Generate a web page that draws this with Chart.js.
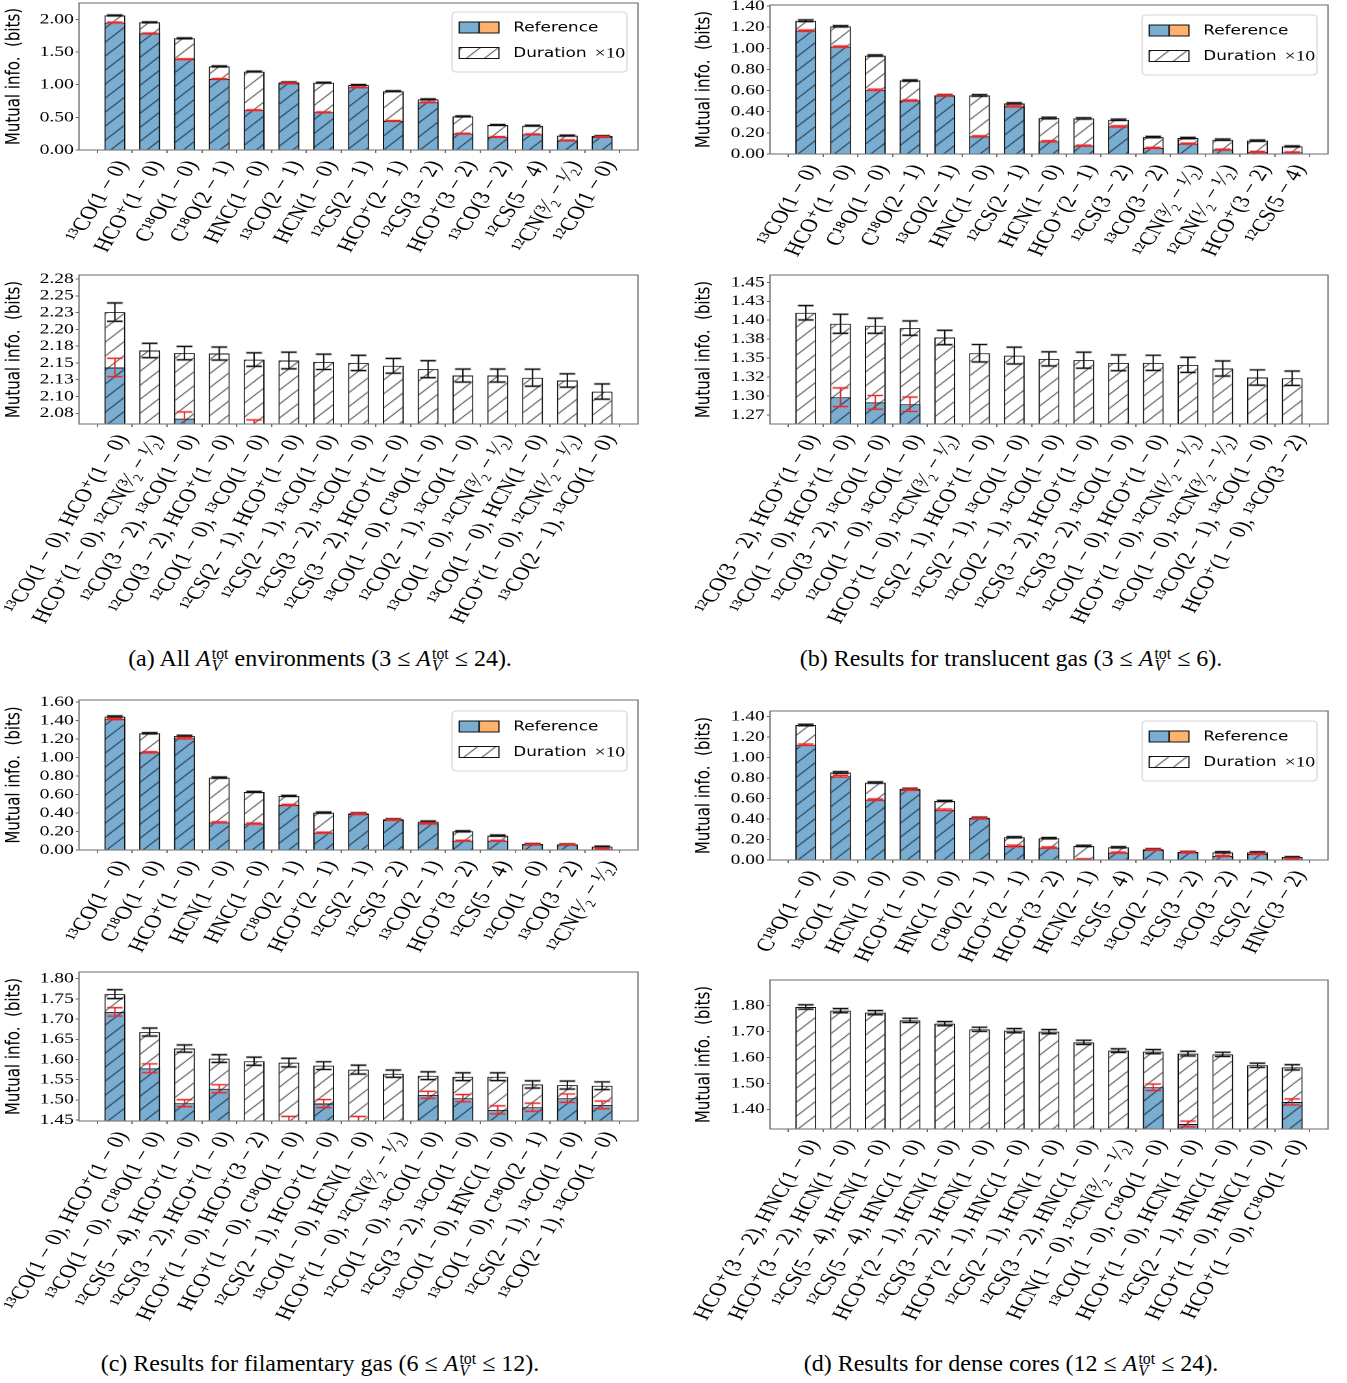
<!DOCTYPE html>
<html>
<head>
<meta charset="utf-8">
<script src="https://cdn.jsdelivr.net/npm/chart.js@4.4.0/dist/chart.umd.min.js"></script>
<style>
  body { margin: 0; background: #fff; width: 1347px; height: 1383px; position: relative; overflow: hidden; }
  .panel { position: absolute; transform-origin: 0 0; }
  .cap { position: absolute; font-family: 'Liberation Serif', 'Times New Roman', serif; font-size: 24px;
         line-height: 28px; white-space: nowrap; transform: translateX(-50%); color: #000; }
  .ss { display: inline-block; vertical-align: -0.32em; line-height: 0.78; font-size: 0.66em; text-align: left; margin-left: 1px; }
</style>
</head>
<body>
<div class="cap" style="left:320px; top:644px">(a) All <i>A</i><span class="ss">tot<br><i>V</i></span> environments (3 ≤ <i>A</i><span class="ss">tot<br><i>V</i></span> ≤ 24).</div>
<div class="cap" style="left:1011px; top:644px">(b) Results for translucent gas (3 ≤ <i>A</i><span class="ss">tot<br><i>V</i></span> ≤ 6).</div>
<div class="cap" style="left:320px; top:1349px">(c) Results for filamentary gas (6 ≤ <i>A</i><span class="ss">tot<br><i>V</i></span> ≤ 12).</div>
<div class="cap" style="left:1011px; top:1349px">(d) Results for dense cores (12 ≤ <i>A</i><span class="ss">tot<br><i>V</i></span> ≤ 24).</div>
<script>
// ---- data ----
const aTopNames = ['¹³CO(1 − 0)', 'HCO⁺(1 − 0)', 'C¹⁸O(1 − 0)', 'C¹⁸O(2 − 1)', 'HNC(1 − 0)', '¹³CO(2 − 1)', 'HCN(1 − 0)',
  '¹²CS(2 − 1)', 'HCO⁺(2 − 1)', '¹²CS(3 − 2)', 'HCO⁺(3 − 2)', '¹³CO(3 − 2)', '¹²CS(5 − 4)', '¹²CN(³⁄₂ − ¹⁄₂)', '¹²CO(1 − 0)'];
const aTopTotal = [2.06, 1.955, 1.71, 1.28, 1.20, 1.036, 1.03, 0.995, 0.90, 0.775, 0.515, 0.383, 0.372, 0.22, 0.214];
const aTopRef = [1.95, 1.785, 1.39, 1.087, 0.61, 1.02, 0.577, 0.96, 0.444, 0.73, 0.25, 0.20, 0.24, 0.148, 0.20];
const aTopErrTotal = [0.006, 0.006, 0.006, 0.006, 0.006, 0.006, 0.006, 0.006, 0.006, 0.006, 0.006, 0.006, 0.006, 0.006, 0.006];
const aTopErrRef = [0.006, 0.006, 0.006, 0.006, 0.006, 0.006, 0.006, 0.006, 0.006, 0.006, 0.006, 0.006, 0.006, 0.006, 0.006];
const aTopTicks = [0, 0.5, 1.0, 1.5, 2.0];
const aTopTickLabels = ['0.00', '0.50', '1.00', '1.50', '2.00'];

const bTopNames = ['¹³CO(1 − 0)', 'HCO⁺(1 − 0)', 'C¹⁸O(1 − 0)', 'C¹⁸O(2 − 1)', '¹³CO(2 − 1)', 'HNC(1 − 0)', '¹²CS(2 − 1)',
  'HCN(1 − 0)', 'HCO⁺(2 − 1)', '¹²CS(3 − 2)', '¹³CO(3 − 2)', '¹²CN(³⁄₂ − ¹⁄₂)', '¹²CN(¹⁄₂ − ¹⁄₂)', 'HCO⁺(3 − 2)', '¹²CS(5 − 4)'];
const bTopTotal = [1.261, 1.208, 0.931, 0.695, 0.556, 0.554, 0.478, 0.34, 0.337, 0.324, 0.16, 0.151, 0.135, 0.126, 0.072];
const bTopRef = [1.167, 1.016, 0.607, 0.506, 0.554, 0.167, 0.45, 0.12, 0.079, 0.261, 0.057, 0.098, 0.041, 0.019, 0.016];
const bTopErrTotal = [0.008, 0.006, 0.006, 0.006, 0.006, 0.007, 0.006, 0.007, 0.006, 0.006, 0.006, 0.006, 0.006, 0.006, 0.005];
const bTopErrRef = [0.006, 0.006, 0.006, 0.006, 0.006, 0.005, 0.006, 0.006, 0.005, 0.006, 0.005, 0.005, 0.005, 0.005, 0.004];
const bTopTicks = [0, 0.2, 0.4, 0.6, 0.8, 1.0, 1.2, 1.4];
const bTopTickLabels = ['0.00', '0.20', '0.40', '0.60', '0.80', '1.00', '1.20', '1.40'];

const cTopNames = ['¹³CO(1 − 0)', 'C¹⁸O(1 − 0)', 'HCO⁺(1 − 0)', 'HCN(1 − 0)', 'HNC(1 − 0)', 'C¹⁸O(2 − 1)', 'HCO⁺(2 − 1)',
  '¹²CS(2 − 1)', '¹²CS(3 − 2)', '¹³CO(2 − 1)', 'HCO⁺(3 − 2)', '¹²CS(5 − 4)', '¹²CO(1 − 0)', '¹³CO(3 − 2)', '¹²CN(¹⁄₂ − ¹⁄₂)'];
const cTopTotal = [1.441, 1.261, 1.232, 0.782, 0.627, 0.584, 0.404, 0.396, 0.332, 0.306, 0.202, 0.155, 0.065, 0.061, 0.036];
const cTopRef = [1.413, 1.056, 1.207, 0.299, 0.285, 0.486, 0.187, 0.389, 0.324, 0.288, 0.10, 0.10, 0.061, 0.058, 0.014];
const cTopErrTotal = [0.007, 0.006, 0.007, 0.006, 0.006, 0.006, 0.006, 0.006, 0.005, 0.006, 0.006, 0.006, 0.005, 0.005, 0.005];
const cTopErrRef = [0.006, 0.006, 0.007, 0.006, 0.006, 0.006, 0.005, 0.006, 0.005, 0.006, 0.005, 0.005, 0.004, 0.004, 0.004];
const cTopTicks = [0, 0.2, 0.4, 0.6, 0.8, 1.0, 1.2, 1.4, 1.6];
const cTopTickLabels = ['0.00', '0.20', '0.40', '0.60', '0.80', '1.00', '1.20', '1.40', '1.60'];

const dTopNames = ['C¹⁸O(1 − 0)', '¹³CO(1 − 0)', 'HCN(1 − 0)', 'HCO⁺(1 − 0)', 'HNC(1 − 0)', 'C¹⁸O(2 − 1)', 'HCO⁺(2 − 1)',
  'HCO⁺(3 − 2)', 'HCN(2 − 1)', '¹²CS(5 − 4)', '¹³CO(2 − 1)', '¹²CS(3 − 2)', '¹³CO(3 − 2)', '¹²CS(2 − 1)', 'HNC(3 − 2)'];
const dTopTotal = [1.318, 0.854, 0.756, 0.694, 0.576, 0.412, 0.222, 0.213, 0.137, 0.124, 0.105, 0.079, 0.075, 0.075, 0.029];
const dTopRef = [1.125, 0.818, 0.589, 0.687, 0.49, 0.406, 0.137, 0.121, 0.007, 0.072, 0.098, 0.075, 0.039, 0.059, 0.013];
const dTopErrTotal = [0.007, 0.008, 0.006, 0.006, 0.006, 0.006, 0.006, 0.006, 0.006, 0.006, 0.005, 0.005, 0.006, 0.005, 0.004];
const dTopErrRef = [0.007, 0.008, 0.007, 0.007, 0.007, 0.005, 0.008, 0.007, 0.005, 0.006, 0.005, 0.005, 0.006, 0.005, 0.004];
const dTopTicks = [0, 0.2, 0.4, 0.6, 0.8, 1.0, 1.2, 1.4];
const dTopTickLabels = ['0.00', '0.20', '0.40', '0.60', '0.80', '1.00', '1.20', '1.40'];

const aBotNames = ['¹³CO(1 − 0), HCO⁺(1 − 0)', 'HCO⁺(1 − 0), ¹²CN(³⁄₂ − ¹⁄₂)', '¹²CO(3 − 2), ¹³CO(1 − 0)',
  '¹²CO(3 − 2), HCO⁺(1 − 0)', '¹²CO(1 − 0), ¹³CO(1 − 0)', '¹²CS(2 − 1), HCO⁺(1 − 0)', '¹²CS(2 − 1), ¹³CO(1 − 0)',
  '¹²CS(3 − 2), ¹³CO(1 − 0)', '¹²CS(3 − 2), HCO⁺(1 − 0)', '¹³CO(1 − 0), C¹⁸O(1 − 0)', '¹²CO(2 − 1), ¹³CO(1 − 0)',
  '¹³CO(1 − 0), ¹²CN(³⁄₂ − ¹⁄₂)', '¹³CO(1 − 0), HCN(1 − 0)', 'HCO⁺(1 − 0), ¹²CN(¹⁄₂ − ¹⁄₂)', '¹³CO(2 − 1), ¹³CO(1 − 0)'];
const aBotTotal = [2.2257, 2.1685, 2.1646, 2.164, 2.155, 2.1536, 2.1516, 2.150, 2.1457, 2.1407, 2.1312, 2.1312, 2.128, 2.1238, 2.1073];
const aBotRef = [2.1432, null, 2.067, null, 2.055, null, null, null, null, null, null, null, null, null, null];
const aBotErrTotal = [0.0137, 0.0107, 0.010, 0.0097, 0.010, 0.0124, 0.0114, 0.0114, 0.011, 0.0127, 0.0097, 0.0097, 0.0127, 0.010, 0.0114];
const aBotErrRef = [0.0137, null, 0.010, null, 0.010, null, null, null, null, null, null, null, null, null, null];
const aBotTicks = [2.075, 2.1, 2.125, 2.15, 2.175, 2.2, 2.225, 2.25, 2.275];
const aBotTickLabels = ['2.08', '2.10', '2.13', '2.15', '2.18', '2.20', '2.23', '2.25', '2.28'];

const bBotNames = ['¹²CO(3 − 2), HCO⁺(1 − 0)', '¹³CO(1 − 0), HCO⁺(1 − 0)', '¹²CO(3 − 2), ¹³CO(1 − 0)',
  '¹²CO(1 − 0), ¹³CO(1 − 0)', 'HCO⁺(1 − 0), ¹²CN(³⁄₂ − ¹⁄₂)', '¹²CS(2 − 1), HCO⁺(1 − 0)', '¹²CS(2 − 1), ¹³CO(1 − 0)',
  '¹²CO(2 − 1), ¹³CO(1 − 0)', '¹²CS(3 − 2), HCO⁺(1 − 0)', '¹²CS(3 − 2), ¹³CO(1 − 0)', '¹²CO(1 − 0), HCO⁺(1 − 0)',
  'HCO⁺(1 − 0), ¹²CN(¹⁄₂ − ¹⁄₂)', '¹³CO(1 − 0), ¹²CN(³⁄₂ − ¹⁄₂)', '¹³CO(2 − 1), ¹³CO(1 − 0)', 'HCO⁺(1 − 0), ¹³CO(3 − 2)'];
const bBotTotal = [1.4099, 1.3953, 1.3927, 1.3896, 1.3772, 1.3565, 1.3534, 1.349, 1.3473, 1.3438, 1.3438, 1.3411, 1.3363, 1.3244, 1.3235];
const bBotRef = [null, 1.2984, 1.2917, 1.2891, null, null, null, null, null, null, null, null, null, null, null];
const bBotErrTotal = [0.0095, 0.0126, 0.010, 0.0095, 0.0095, 0.0115, 0.011, 0.0093, 0.0106, 0.0104, 0.010, 0.010, 0.010, 0.0101, 0.0095];
const bBotErrRef = [null, 0.0123, 0.009, 0.0095, null, null, null, null, null, null, null, null, null, null, null];
const bBotTicks = [1.275, 1.3, 1.325, 1.35, 1.375, 1.4, 1.425, 1.45];
const bBotTickLabels = ['1.27', '1.30', '1.32', '1.35', '1.38', '1.40', '1.43', '1.45'];

const cBotNames = ['¹³CO(1 − 0), HCO⁺(1 − 0)', '¹³CO(1 − 0), C¹⁸O(1 − 0)', '¹²CS(5 − 4), HCO⁺(1 − 0)',
  '¹²CS(3 − 2), HCO⁺(1 − 0)', 'HCO⁺(1 − 0), HCO⁺(3 − 2)', 'HCO⁺(1 − 0), C¹⁸O(1 − 0)', '¹²CS(2 − 1), HCO⁺(1 − 0)',
  '¹³CO(1 − 0), HCN(1 − 0)', 'HCO⁺(1 − 0), ¹²CN(³⁄₂ − ¹⁄₂)', '¹²CO(1 − 0), ¹³CO(1 − 0)', '¹²CS(3 − 2), ¹³CO(1 − 0)',
  '¹³CO(1 − 0), HNC(1 − 0)', '¹³CO(1 − 0), C¹⁸O(2 − 1)', '¹²CS(2 − 1), ¹³CO(1 − 0)', '¹³CO(2 − 1), ¹³CO(1 − 0)'];
const cBotTotal = [1.7617, 1.6678, 1.627, 1.6021, 1.5955, 1.5921, 1.5847, 1.5747, 1.5647, 1.5597, 1.5572, 1.5572, 1.5381, 1.5365, 1.5348];
const cBotRef = [1.7177, 1.578, 1.4916, 1.5273, null, 1.448, 1.4907, 1.448, null, 1.5123, 1.504, 1.475, 1.4816, 1.504, 1.4874];
const cBotErrTotal = [0.011, 0.010, 0.009, 0.0096, 0.010, 0.0108, 0.0096, 0.011, 0.009, 0.0096, 0.0096, 0.0096, 0.009, 0.010, 0.0096];
const cBotErrRef = [0.0104, 0.011, 0.0087, 0.010, null, 0.0108, 0.010, 0.0108, null, 0.0087, 0.009, 0.010, 0.010, 0.0104, 0.0096];
const cBotTicks = [1.45, 1.5, 1.55, 1.6, 1.65, 1.7, 1.75, 1.8];
const cBotTickLabels = ['1.45', '1.50', '1.55', '1.60', '1.65', '1.70', '1.75', '1.80'];

const dBotNames = ['HCO⁺(3 − 2), HNC(1 − 0)', 'HCO⁺(3 − 2), HCN(1 − 0)', '¹²CS(5 − 4), HCN(1 − 0)',
  '¹²CS(5 − 4), HNC(1 − 0)', 'HCO⁺(2 − 1), HCN(1 − 0)', '¹²CS(3 − 2), HCN(1 − 0)', 'HCO⁺(2 − 1), HNC(1 − 0)',
  '¹²CS(2 − 1), HCN(1 − 0)', '¹²CS(3 − 2), HNC(1 − 0)', 'HCN(1 − 0), ¹²CN(³⁄₂ − ¹⁄₂)', '¹³CO(1 − 0), C¹⁸O(1 − 0)',
  'HCO⁺(1 − 0), HCN(1 − 0)', '¹²CS(2 − 1), HNC(1 − 0)', 'HCO⁺(1 − 0), HNC(1 − 0)', 'HCO⁺(1 − 0), C¹⁸O(1 − 0)'];
const dBotTotal = [1.7949, 1.7807, 1.773, 1.7434, 1.7305, 1.7087, 1.7035, 1.6997, 1.6585, 1.6264, 1.6225, 1.6148, 1.6122, 1.5698, 1.562];
const dBotRef = [null, null, null, null, null, null, null, null, null, null, 1.4849, 1.3434, null, null, 1.4283];
const dBotErrTotal = [0.0084, 0.008, 0.008, 0.008, 0.008, 0.008, 0.008, 0.008, 0.008, 0.007, 0.008, 0.009, 0.008, 0.008, 0.010];
const dBotErrRef = [null, null, null, null, null, null, null, null, null, null, 0.0125, 0.011, null, null, 0.0116];
const dBotTicks = [1.4, 1.5, 1.6, 1.7, 1.8];
const dBotTickLabels = ['1.40', '1.50', '1.60', '1.70', '1.80'];

// ---- look ----
const STRETCH = 1.3;   // the original figure is stretched horizontally
const SERIF = "'Liberation Serif', 'DejaVu Serif', serif";
const SANS = "'DejaVu Sans', sans-serif";
const BLUE = 'rgb(121,173,210)';
const ORANGE = 'rgb(255,178,110)';

function hatch(bg) {
  const p = 14;
  const tile = document.createElement('canvas');
  tile.width = p; tile.height = p;
  const g = tile.getContext('2d');
  g.fillStyle = bg;
  g.fillRect(0, 0, p, p);
  g.strokeStyle = '#000';
  g.lineWidth = 0.9;
  g.beginPath();
  g.moveTo(-2, 2); g.lineTo(2, -2);
  g.moveTo(-1, p + 1); g.lineTo(p + 1, -1);
  g.moveTo(p - 2, p + 2); g.lineTo(p + 2, p - 2);
  g.stroke();
  return g.createPattern(tile, 'repeat');
}
const whiteHatch = hatch('#ffffff');
const blueHatch = hatch(BLUE);

const panels = [
  { left: 0, L: 79, R: 638, T: 3, B: 150, ymin: 0, ymax: 2.25, xH: 130, legend: { right: 8.5, top: 9 },
    names: aTopNames, total: aTopTotal, ref: aTopRef, errTotal: aTopErrTotal, errRef: aTopErrRef, ticks: aTopTicks, tickLabels: aTopTickLabels },
  { left: 690, L: 770, R: 1328, T: 5, B: 154, ymin: 0, ymax: 1.41, xH: 130, legend: { right: 8.5, top: 10 },
    names: bTopNames, total: bTopTotal, ref: bTopRef, errTotal: bTopErrTotal, errRef: bTopErrRef, ticks: bTopTicks, tickLabels: bTopTickLabels },
  { left: 0, L: 79, R: 638, T: 275, B: 424, ymin: 2.059, ymax: 2.281, xH: 240, legend: null,
    names: aBotNames, total: aBotTotal, ref: aBotRef, errTotal: aBotErrTotal, errRef: aBotErrRef, ticks: aBotTicks, tickLabels: aBotTickLabels },
  { left: 690, L: 770, R: 1328, T: 275, B: 424, ymin: 1.2631, ymax: 1.4597, xH: 240, legend: null,
    names: bBotNames, total: bBotTotal, ref: bBotRef, errTotal: bBotErrTotal, errRef: bBotErrRef, ticks: bBotTicks, tickLabels: bBotTickLabels },
  { left: 0, L: 79, R: 638, T: 700, B: 850, ymin: 0, ymax: 1.62, xH: 130, legend: { right: 8.5, top: 11 },
    names: cTopNames, total: cTopTotal, ref: cTopRef, errTotal: cTopErrTotal, errRef: cTopErrRef, ticks: cTopTicks, tickLabels: cTopTickLabels },
  { left: 690, L: 770, R: 1328, T: 711, B: 860, ymin: 0, ymax: 1.455, xH: 130, legend: { right: 8.5, top: 10 },
    names: dTopNames, total: dTopTotal, ref: dTopRef, errTotal: dTopErrTotal, errRef: dTopErrRef, ticks: dTopTicks, tickLabels: dTopTickLabels },
  { left: 0, L: 79, R: 638, T: 972, B: 1121, ymin: 1.4475, ymax: 1.8166, xH: 240, legend: null,
    names: cBotNames, total: cBotTotal, ref: cBotRef, errTotal: cBotErrTotal, errRef: cBotErrRef, ticks: cBotTicks, tickLabels: cBotTickLabels },
  { left: 690, L: 770, R: 1328, T: 980, B: 1129, ymin: 1.324, ymax: 1.899, xH: 240, legend: null,
    names: dBotNames, total: dBotTotal, ref: dBotRef, errTotal: dBotErrTotal, errRef: dBotErrRef, ticks: dBotTicks, tickLabels: dBotTickLabels },
];

function decoPlugin(p) {
  return {
    id: 'deco',
    afterDatasetsDraw(chart) {
      const { ctx, chartArea: a, scales: { x, y } } = chart;
      const bars = chart.getDatasetMeta(1).data;
      ctx.save();
      ctx.beginPath();
      ctx.rect(a.left, a.top, a.right - a.left, a.bottom - a.top);
      ctx.clip();
      const drawErr = (vals, errs, halo, col) => {
        vals.forEach((v, i) => {
          if (v == null || errs[i] == null) return;
          const cx = x.getPixelForValue(i);
          const hw = bars[i].width * 0.36;
          const y0 = y.getPixelForValue(v - errs[i]);
          const y1 = y.getPixelForValue(v + errs[i]);
          ctx.strokeStyle = halo;
          ctx.lineWidth = 2.6;
          ctx.beginPath();
          ctx.moveTo(cx - hw * 1.1, y0); ctx.lineTo(cx + hw * 1.1, y0);
          ctx.moveTo(cx - hw * 1.1, y1); ctx.lineTo(cx + hw * 1.1, y1);
          ctx.stroke();
          ctx.strokeStyle = col;
          ctx.lineWidth = 1.1;
          ctx.beginPath();
          ctx.moveTo(cx, y0); ctx.lineTo(cx, y1);
          ctx.moveTo(cx - hw, y0); ctx.lineTo(cx + hw, y0);
          ctx.moveTo(cx - hw, y1); ctx.lineTo(cx + hw, y1);
          ctx.stroke();
        });
      };
      drawErr(p.total, p.errTotal, 'rgba(0,0,0,0.3)', '#111');
      drawErr(p.ref, p.errRef, 'rgba(255,70,70,0.35)', 'rgb(230,40,40)');
      ctx.restore();
    },
    afterDraw(chart) {
      const { ctx, chartArea: a } = chart;
      ctx.save();
      ctx.strokeStyle = '#777';
      ctx.lineWidth = 1.1;
      ctx.strokeRect(a.left, a.top, a.right - a.left, a.bottom - a.top);
      if (p.legend) {
        const lw = 134.5, lh = 60;
        const lx = a.right - p.legend.right - lw, ly = a.top + p.legend.top;
        ctx.beginPath();
        ctx.roundRect(lx, ly, lw, lh, 3);
        ctx.fillStyle = 'rgba(255,255,255,0.85)';
        ctx.fill();
        ctx.strokeStyle = '#d6d6d6';
        ctx.lineWidth = 1;
        ctx.stroke();
        const px = lx + 5.5, pw = 30.5, ph = 11;
        let py = ly + 10;
        ctx.fillStyle = BLUE; ctx.fillRect(px, py, pw / 2, ph);
        ctx.fillStyle = ORANGE; ctx.fillRect(px + pw / 2, py, pw / 2, ph);
        ctx.strokeStyle = '#111'; ctx.lineWidth = 1;
        ctx.strokeRect(px, py, pw / 2, ph);
        ctx.strokeRect(px + pw / 2, py, pw / 2, ph);
        ctx.fillStyle = '#000';
        ctx.textBaseline = 'middle';
        ctx.font = '13px ' + SANS;
        ctx.fillText('Reference', lx + 47, py + ph / 2 + 0.5);
        py = ly + 35.5;
        ctx.fillStyle = whiteHatch; ctx.fillRect(px, py, pw, ph);
        ctx.strokeRect(px, py, pw, ph);
        ctx.fillStyle = '#000';
        ctx.fillText('Duration', lx + 47, py + ph / 2 + 0.5);
        const tw = ctx.measureText('Duration ').width;
        ctx.font = '15px ' + SERIF;
        ctx.fillText('×10', lx + 47 + tw + 2, py + ph / 2 + 0.5);
      }
      ctx.restore();
    }
  };
}

function drawPanel(p) {
  const padTop = 6;
  const yW = (p.L - p.left) / STRETCH;
  const plotW = (p.R - p.L) / STRETCH;
  const w = Math.ceil(yW + plotW + 5);
  const padRight = w - yW - plotW;
  const h = padTop + (p.B - p.T) + p.xH;
  const wrap = document.createElement('div');
  wrap.className = 'panel';
  wrap.style.left = p.left + 'px';
  wrap.style.top = (p.T - padTop) + 'px';
  wrap.style.width = w + 'px';
  wrap.style.height = h + 'px';
  wrap.style.transform = 'scaleX(' + STRETCH + ')';
  const cv = document.createElement('canvas');
  cv.width = w; cv.height = h;
  cv.style.width = w + 'px'; cv.style.height = h + 'px';
  wrap.appendChild(cv);
  document.body.appendChild(wrap);

  new Chart(cv, {
    type: 'bar',
    data: {
      datasets: [
        { data: p.ref.map((v, i) => ({ x: i, y: v })), backgroundColor: blueHatch, borderColor: '#111',
          borderWidth: 1, barPercentage: 0.6, categoryPercentage: 1, clip: 0 },
        { data: p.total.map((v, i) => ({ x: i, y: v })), backgroundColor: whiteHatch, borderColor: '#111',
          borderWidth: 1, barPercentage: 0.6, categoryPercentage: 1, clip: 0 }
      ]
    },
    options: {
      responsive: false,
      animation: false,
      devicePixelRatio: 2,
      layout: { padding: { top: padTop, right: padRight, left: 0, bottom: 0 } },
      plugins: { legend: { display: false }, tooltip: { enabled: false } },
      scales: {
        x: {
          type: 'linear', min: -1.03, max: 15.03, stacked: true, offset: false,
          afterFit: s => { s.height = p.xH; s.paddingLeft = 0; s.paddingRight = 0; },
          afterBuildTicks: s => { s.ticks = p.names.map((_, i) => ({ value: i })); },
          grid: { display: true, drawOnChartArea: false, drawTicks: true, tickLength: 3, color: '#666' },
          border: { display: false },
          ticks: { autoSkip: false, minRotation: 64, maxRotation: 64, padding: 4, labelOffset: 6, color: '#000',
                   font: { family: SERIF, size: 18.5 }, callback: (v, i) => p.names[i] }
        },
        y: {
          min: p.ymin, max: p.ymax, stacked: false,
          afterFit: s => { s.width = yW; s.paddingTop = 0; s.paddingBottom = 0; },
          afterBuildTicks: s => { s.ticks = p.ticks.map(v => ({ value: v })); },
          grid: { display: true, drawOnChartArea: false, drawTicks: true, tickLength: 2.5, color: '#666' },
          border: { display: false },
          ticks: { autoSkip: false, padding: 1.5, color: '#000', font: { family: SERIF, size: 15 },
                   callback: (v, i) => p.tickLabels[i] },
          title: { display: true, text: 'Mutual info.  (bits)', color: '#000',
                   font: { family: SANS, size: 15 }, padding: { top: 2, bottom: 0 } }
        }
      }
    },
    plugins: [decoPlugin(p)]
  });
}

panels.forEach(drawPanel);
</script>
</body>
</html>
